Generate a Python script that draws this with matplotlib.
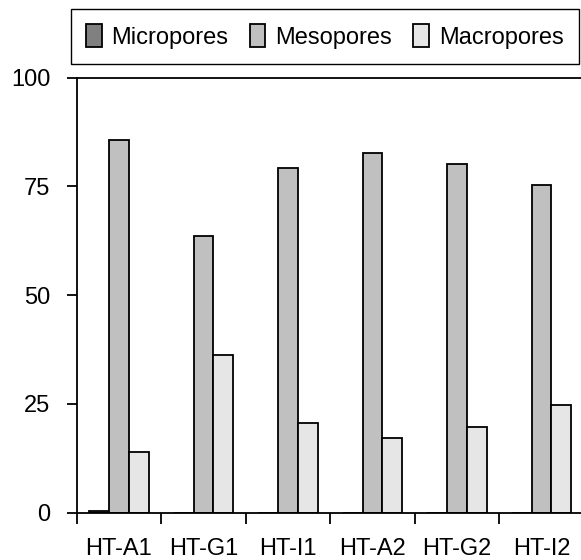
import numpy as np
import matplotlib
matplotlib.use("Agg")
import matplotlib.pyplot as plt

plt.rcParams["font.family"] = ["Liberation Sans", "DejaVu Sans"]

# Pore size distribution (%) per sample
samples = ["HT-A1", "HT-G1", "HT-I1", "HT-A2", "HT-G2", "HT-I2"]
micropores = [0.4, 0.0, 0.0, 0.0, 0.0, 0.0]
mesopores = [85.7, 63.6, 79.3, 82.7, 80.2, 75.2]
macropores = [14.0, 36.3, 20.6, 17.2, 19.7, 24.7]

series = [
    ("Micropores", micropores, "#808080"),
    ("Mesopores", mesopores, "#c0c0c0"),
    ("Macropores", macropores, "#e6e6e6"),
]

W, H = 581, 560
fig = plt.figure(figsize=(W / 100, H / 100), dpi=100)
ax = fig.add_axes([76.7 / W, (H - 512.7) / H, 507 / W, (512.7 - 77.5) / H])

x = np.arange(len(samples))
bw = 0.235
handles = []
for k, (name, vals, col) in enumerate(series):
    b = ax.bar(x + (k - 1) * bw, vals, bw, color=col, edgecolor="black",
               linewidth=1.3, label=name)
    handles.append(b)

ax.set_xlim(-0.5, len(samples) - 0.5)
ax.set_ylim(0, 100)
ax.set_yticks([0, 25, 50, 75, 100])

# sample names centred in each group, tick marks on group boundaries
ax.set_xticks(x)
ax.set_xticklabels(samples)
ax.set_xticks(np.arange(len(samples) + 1) - 0.5, minor=True)
ax.tick_params(axis="x", which="major", length=0, pad=18, labelsize=17)
ax.tick_params(axis="x", which="minor", length=8, width=1.3, direction="out")
ax.tick_params(axis="y", length=7, width=1.3, direction="out", pad=12, labelsize=17)

for s in ax.spines.values():
    s.set_linewidth(1.3)

fig.legend(handles=handles, loc="upper left",
           bbox_to_anchor=(71 / W, 1 - 9.3 / H), borderaxespad=0,
           ncol=3, fontsize=17, frameon=True, fancybox=False,
           edgecolor="black", framealpha=1, handlelength=0.66,
           handleheight=1.08, handletextpad=0.42, columnspacing=0.9,
           borderpad=0.64)

fig.savefig("out.png", dpi=100)
